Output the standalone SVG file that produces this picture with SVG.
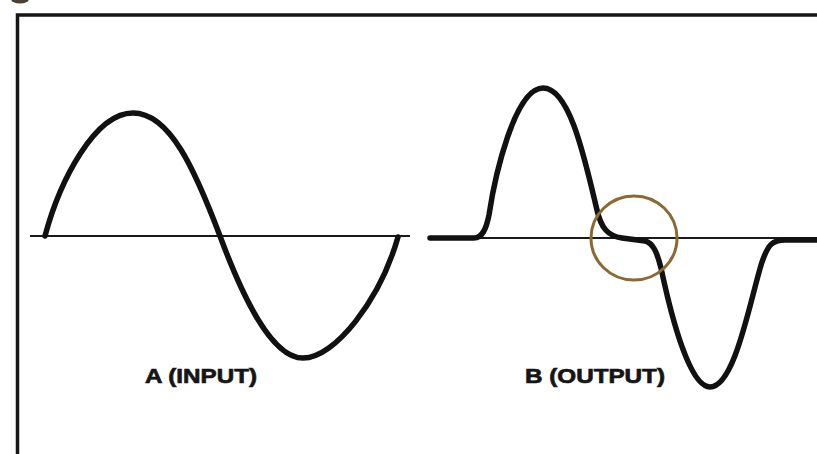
<svg xmlns="http://www.w3.org/2000/svg" width="817" height="454" viewBox="0 0 817 454">
<style>
.frame{stroke:#151515;stroke-width:3.5;fill:none}
.axis{stroke:#1a1a1a;stroke-width:2;fill:none}
.wave{stroke:#111;stroke-width:5.5;fill:none;stroke-linecap:round;stroke-linejoin:round}
.lbl{font-family:"Liberation Sans",Arial,sans-serif;font-weight:bold;font-size:21px;fill:#151515;stroke:#151515;stroke-width:0.7}
</style>
<rect width="817" height="454" fill="#ffffff"/>
<g id="frame">
<ellipse cx="20" cy="-1" rx="9" ry="4.5" fill="#4a4034"/>
<path class="frame" d="M17.5,454 V15 H817"/>
</g>
<g id="input">
<path class="axis" d="M30,236 H410"/>
<path class="wave" d="M45,236 C60,180 95,113 133,113 C170,113 195,170 220,236 C240,290 270,358 303,358 C335,358 380,300 398,237"/>
<text class="lbl" x="145" y="383" textLength="112" lengthAdjust="spacingAndGlyphs">A (INPUT)</text>
</g>
<g id="output">
<path class="axis" d="M430,238 H817"/>
<path class="wave" d="M430,238 L474,238 C482,238 486,230 489,215 C495,175 515,88 543,88 C570,88 585,160 597,210 C601,228 608,236 622,238 L645,241 C653,243 657,252 661,268 C672,320 690,387 710,387 C735,387 750,300 762,262 C768,245 772,240 785,240 L817,240"/>
<text class="lbl" x="525" y="383" textLength="140" lengthAdjust="spacingAndGlyphs">B (OUTPUT)</text>
</g>
<g id="highlight">
<ellipse cx="634" cy="238" rx="43" ry="42" fill="none" stroke="#8a6a32" stroke-width="3"/>
</g>
</svg>
